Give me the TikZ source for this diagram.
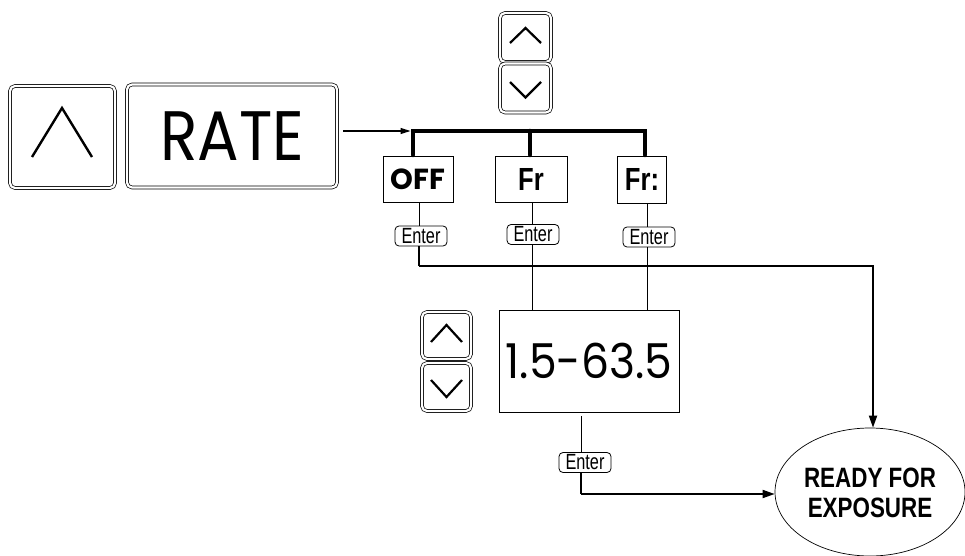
\documentclass[tikz,border=0pt]{standalone}
\usepackage{fontspec}
\setmainfont{Liberation Sans}
\newfontfamily\geofont{Poppins}
\usetikzlibrary{arrows.meta,shapes.geometric}

\tikzset{
  keycap/.style={draw=black, line width=0.7pt, double=white, double distance=2.2pt,
    rounded corners=5pt, inner sep=0pt},
  modebox/.style={draw=black, line width=0.8pt, inner sep=0pt},
  enterkey/.style={draw=black, line width=0.8pt, rounded corners=4pt, inner sep=0pt,
    minimum width=52pt, minimum height=20pt},
  chevron/.style={line width=2.2pt, line cap=butt, line join=miter},
  thin/.style={line width=0.8pt},
  route/.style={line width=1.8pt},
  bus/.style={line width=4.5pt, line cap=round},
  tip/.style={-{Triangle[length=12pt,width=8pt]}},
}
\newcommand\enterlabel{\scalebox{0.74}[1]{\fontsize{22}{22}\selectfont Enter}}

\begin{document}
\begin{tikzpicture}[x=1pt,y=-1pt]
\useasboundingbox (0,0) rectangle (965,556);

% RATE key pair
\node[keycap, minimum width=105pt, minimum height=102pt] (upkey) at (62.5,137) {};
\draw[line width=2.4pt] (32,157) -- (62,108) -- (92,157);
\node[keycap, minimum width=210pt, minimum height=103pt] (rate) at (232,136)
  {\scalebox{0.88}[1]{\geofont\fontsize{70}{70}\selectfont RATE}};

% scroll keys above the mode selection
\node[keycap, minimum width=51pt, minimum height=49pt] (topup) at (525.5,37.5) {};
\node[keycap, minimum width=51pt, minimum height=49pt] (topdn) at (525.5,88) {};
\draw[chevron] (510,43) -- (525.5,28) -- (541,43);
\draw[chevron] (510,82) -- (525.5,97.5) -- (541,82);

% mode boxes
\node[modebox, minimum width=70pt, minimum height=46pt] (off) at (418,179)
  {\geofont\bfseries\fontsize{29}{29}\selectfont OFF};
\node[modebox, minimum width=72pt, minimum height=46pt] (fr) at (531,179)
  {\scalebox{0.8}[1]{\bfseries\fontsize{32}{32}\selectfont Fr}};
\node[modebox, minimum width=49pt, minimum height=47pt] (frc) at (642,179.5)
  {\scalebox{0.8}[1]{\bfseries\fontsize{32}{32}\selectfont Fr:}};

% bus from the RATE key to the modes
\coordinate (busL) at (413,131);
\coordinate (busR) at (645,131);
\draw[bus] (413,155) -- (busL) -- (busR) -- (645,155);
\draw[bus] (530,131) -- (530,155);
\draw[line width=1.3pt, -{Triangle[length=10pt,width=6pt]}] ([xshift=6pt]rate.east |- busL) -- ([xshift=-2.5pt]busL);

% enter keys under the modes
\node[enterkey] (e1) at (421,236) {\enterlabel};
\node[enterkey] (e2) at (533,234.5) {\enterlabel};
\node[enterkey] (e3) at (649,237) {\enterlabel};
\draw[thin] (off.south -| 419,0) -- (e1.north -| 419,0);
\draw[thin] (fr.south -| 532,0) -- (e2.north -| 532,0);
\draw[thin] (frc.south -| 647,0) -- (e3.north -| 647,0);

% rate range entry
\node[modebox, minimum width=180pt, minimum height=102pt] (range) at (589,361)
  {\scalebox{0.92}[1]{\geofont\fontsize{48}{48}\selectfont 1.5-63.5}};
\draw[thin] (e2.south -| 532,0) -- (range.north -| 532,0);
\draw[thin] (e3.south -| 647,0) -- (range.north -| 647,0);

\node[keycap, minimum width=49pt, minimum height=47pt] (lup) at (446.5,335.5) {};
\node[keycap, minimum width=49pt, minimum height=48pt] (ldn) at (446.5,387) {};
\draw[chevron] (431,342) -- (446.5,325) -- (462,342);
\draw[chevron] (431,380) -- (446.5,397) -- (462,380);

\node[enterkey] (e4) at (585,462.5) {\enterlabel};
\draw[thin] (581,416) -- (e4.north -| 581,0);

% final state
\node[draw=black, line width=0.7pt, ellipse, minimum width=190pt, minimum height=128pt, inner sep=0pt]
  (ready) at (870,492) {};
\node[align=center, inner sep=0pt] (readytxt) at ([yshift=-1pt]ready.center)
  {\scalebox{0.8}[1]{\parbox{200pt}{\centering\bfseries\fontsize{28}{30}\selectfont READY FOR\\ EXPOSURE}}};

\coordinate (offturn) at (419,266);
\draw[route] (e1.south -| offturn) -- (offturn);
\draw[route, tip] (offturn) -| ([xshift=3pt]ready.north);
\coordinate (rngturn) at (581,494);
\draw[route] (e4.south -| rngturn) -- (rngturn);
\draw[route, tip] (rngturn) -- (rngturn -| ready.west);
\end{tikzpicture}
\end{document}
